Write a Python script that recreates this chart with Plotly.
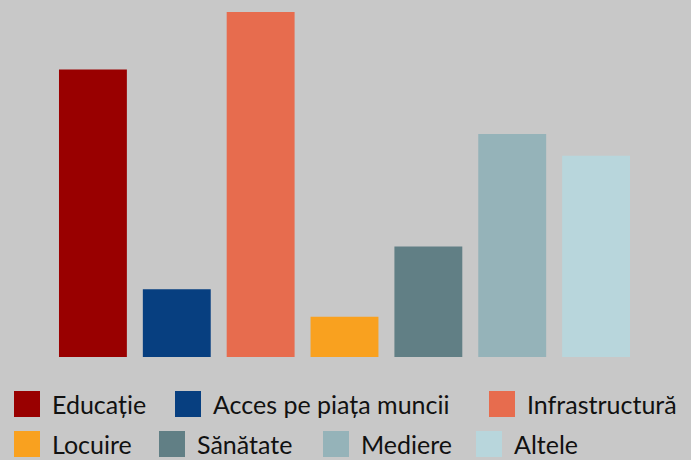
import plotly.graph_objects as go

categories = ["Educație", "Acces pe piața muncii", "Infrastructură", "Locuire",
              "Sănătate", "Mediere", "Altele"]
values = [25.0, 5.9, 30.0, 3.5, 9.6, 19.4, 17.5]
colors = ["#990000", "#073f80", "#e76c4e", "#f9a11f", "#617f85", "#95b3b9", "#b8d6dc"]

# legend layout (rows of category indices)
legend_rows = [[0, 1, 2], [3, 4, 5, 6]]

W, H = 691, 460
BG = "#c8c8c8"

fig = go.Figure()
for cat, val, col in zip(categories, values, colors):
    fig.add_trace(go.Bar(x=[cat], y=[val], marker=dict(color=col, line=dict(width=0)),
                         name=cat, showlegend=False, hoverinfo="x+y"))

base_px = 357
top_px_for_max = 12
ymax = max(values) * base_px / (base_px - top_px_for_max)

fig.update_layout(
    width=W, height=H, autosize=False,
    margin=dict(l=0, r=0, t=0, b=0, pad=0),
    paper_bgcolor=BG, plot_bgcolor=BG,
    barmode="relative", bargap=16 / 84,
    xaxis=dict(domain=[51 / W, 638 / W], range=[-0.5, 6.5], visible=False,
               categoryorder="array", categoryarray=categories),
    yaxis=dict(domain=[1 - base_px / H, 1], range=[0, ymax], visible=False),
    font=dict(family="Lato", size=25, color="#111111"),
)

# manual legend with large swatches
row_centers = [404, 444]
swatch = 26
row_x = [[14, 175, 489], [14, 159, 323, 476]]
text_gap = 10
for r, row in enumerate(legend_rows):
    cy = row_centers[r]
    for j, idx in enumerate(row):
        x0 = row_x[r][j]
        fig.add_shape(type="rect", xref="paper", yref="paper",
                      x0=x0 / W, x1=(x0 + swatch) / W,
                      y0=1 - (cy + swatch / 2) / H, y1=1 - (cy - swatch / 2) / H,
                      fillcolor=colors[idx], line=dict(width=0), layer="above")
        fig.add_annotation(xref="paper", yref="paper", x=(x0 + swatch + text_gap) / W,
                           y=1 - cy / H, xanchor="left", yanchor="middle",
                           text=categories[idx], showarrow=False,
                           font=dict(family="Lato", size=25, color="#111111"))

fig.write_html("out.html", config={"displayModeBar": False},
               post_script="document.body.style.margin='0';document.body.style.overflow='hidden';")
